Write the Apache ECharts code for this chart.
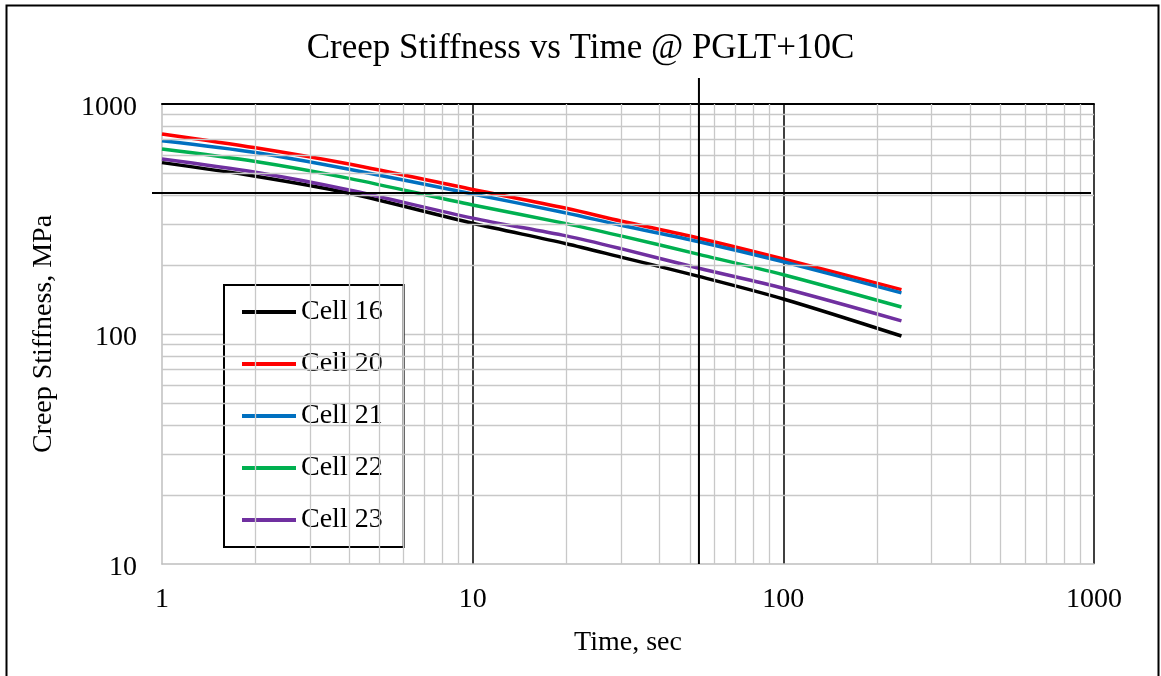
<!DOCTYPE html>
<html>
<head>
<meta charset="utf-8">
<script src="https://cdn.jsdelivr.net/npm/echarts@6/dist/echarts.min.js"></script>
<style>
html,body{margin:0;padding:0;background:#fff;}
#chart{width:1161px;height:676px;}
</style>
</head>
<body>
<div id="chart"></div>
<script>
// ---- data ----
const timeSec = [1, 2, 4, 10, 20, 30, 53.5, 100, 240];
const cell16 = [556, 485, 409, 303, 247, 216, 178, 142, 98];
const cell20 = [741, 645, 548, 425, 352, 310, 261, 212, 156];
const cell21 = [692, 615, 520, 406, 336, 297, 252, 206, 151];
const cell22 = [637, 562, 475, 364, 302, 267, 222, 181, 131];
const cell23 = [577, 505, 423, 319, 267, 235, 193, 158, 114];
const seriesNames = ['Cell 16', 'Cell 20', 'Cell 21', 'Cell 22', 'Cell 23'];
const seriesColors = ['#000000', '#FF0000', '#0070C0', '#00B050', '#7030A0'];
const xTickLabels = [1, 10, 100, 1000];
const yTickLabels = [10, 100, 1000];
const refTime = 53.5;      // vertical reference line (sec)
const refStiffness = 410;  // horizontal reference line (MPa)

// minor gridline values (2..9 of each decade)
const mults = [2, 3, 4, 5, 6, 7, 8, 9];
const xMinor = [], yMinor = [];
[1, 10, 100].forEach(d => mults.forEach(m => xMinor.push(d * m)));
[10, 100].forEach(d => mults.forEach(m => yMinor.push(d * m)));

const FONT = '"Liberation Serif", "Times New Roman", serif';
const values = [cell16, cell20, cell21, cell22, cell23];

const chart = echarts.init(document.getElementById('chart'), null, {renderer: 'canvas'});

const dataSeries = values.map((vals, i) => ({
  name: seriesNames[i],
  type: 'line',
  data: timeSec.map((t, j) => [t, vals[j]]),
  showSymbol: false,
  symbol: 'none',
  smooth: 0.3,
  lineStyle: {color: seriesColors[i], width: 3.5},
  itemStyle: {color: seriesColors[i]},
  z: 3,
  animation: false
}));

const gridSeries = {
  name: '__grid',
  type: 'line',
  data: [],
  silent: true,
  z: 1,
  animation: false,
  markLine: {
    silent: true,
    symbol: ['none', 'none'],
    label: {show: false},
    animation: false,
    lineStyle: {color: '#c8c8c8', type: 'solid', width: 1.3},
    emphasis: {disabled: true},
    data: xMinor.map(v => ({xAxis: v})).concat(yMinor.map(v => ({yAxis: v})))
  }
};

const option = {
  backgroundColor: '#ffffff',
  animation: false,
  title: {
    text: 'Creep Stiffness vs Time @ PGLT+10C',
    left: 'center',
    top: 31,
    padding: 0,
    textStyle: {fontFamily: FONT, fontSize: 35, fontWeight: 'normal', color: '#000'}
  },
  grid: {left: 162, right: 67, top: 104, bottom: 112, containLabel: false},
  legend: {
    data: seriesNames.map(n => ({name: n, icon: 'rect'})),
    orient: 'vertical',
    left: 224,
    top: 285,
    padding: [13, 21, 13, 18],
    itemGap: 24,
    itemWidth: 54,
    itemHeight: 4,
    borderColor: '#000',
    borderWidth: 2,
    backgroundColor: '#fff',
    textStyle: {fontFamily: FONT, fontSize: 28, color: '#000'},
    selectedMode: false
  },
  xAxis: [{
    type: 'log',
    logBase: 10,
    min: xTickLabels[0],
    max: xTickLabels[xTickLabels.length - 1],
    name: 'Time, sec',
    nameLocation: 'middle',
    nameGap: 65,
    nameTextStyle: {fontFamily: FONT, fontSize: 28, color: '#000'},
    axisLine: {show: true, lineStyle: {color: '#bfbfbf', width: 1.5}},
    axisTick: {show: false},
    axisLabel: {fontFamily: FONT, fontSize: 28, color: '#000', margin: 22,
      formatter: v => String(Math.round(v))},
    splitLine: {show: true, showMinLine: false, lineStyle: {color: '#000', width: 1.5}},
    minorTick: {show: false},
    minorSplitLine: {show: false}
  }, {
    type: 'log',
    position: 'top',
    min: xTickLabels[0],
    max: xTickLabels[xTickLabels.length - 1],
    axisLine: {show: true, lineStyle: {color: '#000', width: 2}},
    axisTick: {show: false},
    axisLabel: {show: false},
    splitLine: {show: false}
  }],
  yAxis: {
    type: 'log',
    logBase: 10,
    min: yTickLabels[0],
    max: yTickLabels[yTickLabels.length - 1],
    name: 'Creep Stiffness, MPa',
    nameLocation: 'middle',
    nameGap: 104,
    nameTextStyle: {fontFamily: FONT, fontSize: 28, color: '#000'},
    axisLine: {show: true, lineStyle: {color: '#bfbfbf', width: 1.5}},
    axisTick: {show: false},
    axisLabel: {color: '#000', margin: 25,
      formatter: v => '{t|' + Math.round(v) + '}',
      rich: {t: {fontFamily: FONT, fontSize: 28, color: '#000', padding: [7, 0, 0, 0]}}},
    splitLine: {show: true, showMinLine: false, showMaxLine: false, lineStyle: {color: '#c8c8c8', width: 1.3}},
    minorTick: {show: false},
    minorSplitLine: {show: false}
  },
  series: [gridSeries].concat(dataSeries)
};

chart.setOption(option);

// reference lines & outer frame, positioned through the chart's own scales
const pBottom = chart.convertToPixel({gridIndex: 0}, [refTime, yTickLabels[0]]);
const pTop = chart.convertToPixel({gridIndex: 0}, [refTime, yTickLabels[yTickLabels.length - 1]]);
const hL = chart.convertToPixel({gridIndex: 0}, [xTickLabels[0], refStiffness]);
const hR = chart.convertToPixel({gridIndex: 0}, [xTickLabels[xTickLabels.length - 1], refStiffness]);

chart.setOption({
  graphic: [
    {type: 'line', z: 100, silent: true,
      shape: {x1: pBottom[0], y1: pTop[1] - 26, x2: pBottom[0], y2: pBottom[1]},
      style: {stroke: '#000', lineWidth: 2}},
    {type: 'line', z: 100, silent: true,
      shape: {x1: hL[0] - 10, y1: hL[1], x2: hR[0] - 3, y2: hR[1]},
      style: {stroke: '#000', lineWidth: 2}},
    {type: 'rect', z: 100, silent: true,
      shape: {x: 6.5, y: 5.5, width: 1152, height: 700},
      style: {fill: null, stroke: '#000', lineWidth: 2}}
  ]
});
</script>
</body>
</html>
